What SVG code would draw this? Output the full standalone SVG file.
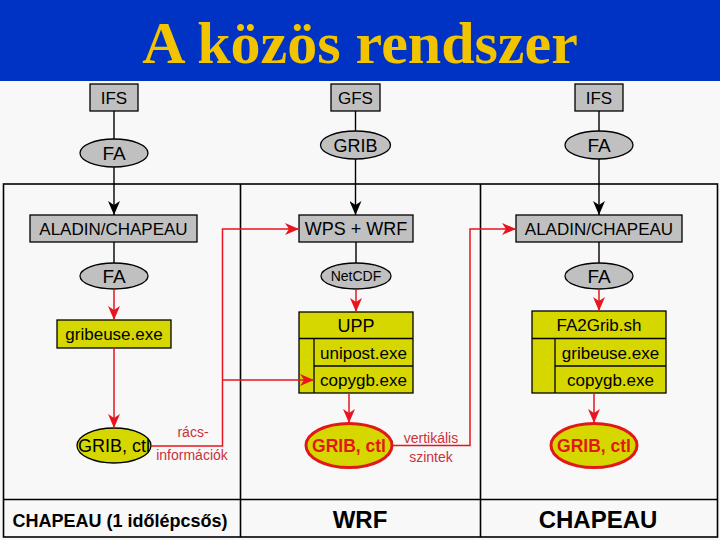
<svg xmlns="http://www.w3.org/2000/svg" width="720" height="540" viewBox="0 0 720 540">
<style>
text{font-family:"Liberation Sans",Arial,sans-serif;text-anchor:middle;fill:#000}
.title{font-family:"Liberation Serif","Times New Roman",serif;font-weight:bold;font-size:60px;fill:#f2c400}
.gray{fill:#c0c0c0;stroke:#000;stroke-width:1.3}
.yel{fill:#d7d700;stroke:#000;stroke-width:1.3}
.ln{fill:none;stroke:#000;stroke-width:1.3}
.blk{fill:none;stroke:#000;stroke-width:1.4}
.red{fill:none;stroke:#e8141e;stroke-width:1.5}
.lbl{font-size:14px;fill:#c8323c}
.t17{font-size:17px}
.t18{font-size:18px}
.t19{font-size:19px}
.rb{font-size:17.5px;font-weight:bold;fill:#e01818}
.tbl{fill:none;stroke:#000;stroke-width:1.6}
.bot{font-weight:bold}
</style>
<defs>
<marker id="ab" markerUnits="userSpaceOnUse" markerWidth="14" markerHeight="12" refX="14" refY="6" orient="auto"><path d="M0,0 L14,6 L0,12 L4,6 z" fill="#000"/></marker>
<marker id="ar" markerUnits="userSpaceOnUse" markerWidth="14" markerHeight="12" refX="14" refY="6" orient="auto"><path d="M0,0 L14,6 L0,12 L4,6 z" fill="#e8141e"/></marker>
</defs>
<rect x="0" y="0" width="720" height="540" fill="#f8f8f8"/>
<rect x="0" y="0" width="720" height="81" fill="#0033c4"/>
<text class="title" x="360" y="63">A közös rendszer</text>

<g id="table">
<rect class="tbl" x="3.5" y="184" width="714" height="353"/>
<line class="tbl" x1="240.5" y1="184" x2="240.5" y2="537"/>
<line class="tbl" x1="480.5" y1="184" x2="480.5" y2="537"/>
<line class="tbl" x1="3.5" y1="499.5" x2="717.5" y2="499.5"/>
<text class="bot" x="120" y="527" style="font-size:18px">CHAPEAU (1 időlépcsős)</text>
<text class="bot" x="360" y="528" style="font-size:24px">WRF</text>
<text class="bot" x="598" y="528" style="font-size:24px">CHAPEAU</text>
</g>

<g id="ifs1"><rect class="gray" x="90" y="84" width="48" height="27"/><text class="t17" x="114" y="104">IFS</text></g>
<g id="fa1"><ellipse class="gray" cx="114" cy="153" rx="34" ry="14"/><text class="t19" x="114" y="160">FA</text></g>
<g id="gfs"><rect class="gray" x="331" y="84" width="49" height="27"/><text class="t17" x="355.5" y="104">GFS</text></g>
<g id="grib0"><ellipse class="gray" cx="355.5" cy="145" rx="35" ry="14"/><text class="t18" x="355.5" y="152">GRIB</text></g>
<g id="ifs2"><rect class="gray" x="575" y="84" width="48" height="27"/><text class="t17" x="599" y="104">IFS</text></g>
<g id="fa2"><ellipse class="gray" cx="599" cy="145" rx="34" ry="14"/><text class="t19" x="599" y="152">FA</text></g>

<g id="aladin1"><rect class="gray" x="30" y="215" width="167" height="27"/><text class="t17" x="113.5" y="234.5">ALADIN/CHAPEAU</text></g>
<g id="wps"><rect class="gray" x="299" y="215" width="114" height="27"/><text class="t18" x="356" y="235">WPS + WRF</text></g>
<g id="aladin2"><rect class="gray" x="516" y="215" width="166" height="27"/><text class="t17" x="599" y="234.5">ALADIN/CHAPEAU</text></g>

<g id="fa3"><ellipse class="gray" cx="114" cy="276" rx="34" ry="13"/><text class="t19" x="114" y="283">FA</text></g>
<g id="netcdf"><ellipse class="gray" cx="356" cy="276" rx="35" ry="13"/><text x="356" y="281" style="font-size:14px">NetCDF</text></g>
<g id="fa4"><ellipse class="gray" cx="599" cy="276" rx="34" ry="13"/><text class="t19" x="599" y="283">FA</text></g>

<g id="gribeuse1"><rect class="yel" x="57" y="320" width="114" height="28"/><text class="t17" x="114" y="340">gribeuse.exe</text></g>
<g id="upp">
<rect class="yel" x="299" y="312" width="114" height="81"/>
<line class="ln" x1="299" y1="338.5" x2="413" y2="338.5"/>
<line class="ln" x1="314" y1="338.5" x2="314" y2="393"/>
<line class="ln" x1="314" y1="366" x2="413" y2="366"/>
<text class="t18" x="356" y="332">UPP</text>
<text class="t17" x="363.5" y="359">unipost.exe</text>
<text class="t17" x="363.5" y="386">copygb.exe</text>
</g>
<g id="fa2grib">
<rect class="yel" x="532" y="311" width="134" height="82"/>
<line class="ln" x1="532" y1="338.5" x2="666" y2="338.5"/>
<line class="ln" x1="555" y1="338.5" x2="555" y2="393"/>
<line class="ln" x1="555" y1="366" x2="666" y2="366"/>
<text class="t17" x="599" y="331">FA2Grib.sh</text>
<text class="t17" x="610.5" y="359">gribeuse.exe</text>
<text class="t17" x="610.5" y="386">copygb.exe</text>
</g>

<g id="gribctl1"><ellipse class="yel" cx="114" cy="445.5" rx="37" ry="17.5"/><text class="t18" x="114" y="452">GRIB, ctl</text></g>
<g id="gribctl2"><ellipse cx="349" cy="445.5" rx="43" ry="22" fill="#d7d700" stroke="#e01818" stroke-width="3"/><text class="rb" x="349" y="452">GRIB, ctl</text></g>
<g id="gribctl3"><ellipse cx="594" cy="445.5" rx="43" ry="22" fill="#d7d700" stroke="#e01818" stroke-width="3"/><text class="rb" x="594" y="452">GRIB, ctl</text></g>

<g id="connectors">
<line class="blk" x1="114" y1="111" x2="114" y2="139"/>
<line class="blk" x1="114" y1="167" x2="114" y2="215" marker-end="url(#ab)"/>
<line class="blk" x1="355.5" y1="111" x2="355.5" y2="131"/>
<line class="blk" x1="355.5" y1="159" x2="355.5" y2="215" marker-end="url(#ab)"/>
<line class="blk" x1="599" y1="111" x2="599" y2="131"/>
<line class="blk" x1="599" y1="159" x2="599" y2="215" marker-end="url(#ab)"/>
<line class="blk" x1="114" y1="242" x2="114" y2="263"/>
<line class="blk" x1="356" y1="242" x2="356" y2="263"/>
<line class="blk" x1="599" y1="242" x2="599" y2="263"/>
<line class="red" x1="114" y1="289" x2="114" y2="320" marker-end="url(#ar)"/>
<line class="red" x1="356" y1="289" x2="356" y2="312" marker-end="url(#ar)"/>
<line class="red" x1="599" y1="289" x2="599" y2="311" marker-end="url(#ar)"/>
<line class="red" x1="114" y1="348" x2="114" y2="428" marker-end="url(#ar)"/>
<line class="red" x1="349" y1="393" x2="349" y2="423" marker-end="url(#ar)"/>
<line class="red" x1="594" y1="393" x2="594" y2="423" marker-end="url(#ar)"/>
<path class="red" d="M151,446 H222.5 V229 H299" marker-end="url(#ar)"/>
<path class="red" d="M222.5,380 H314" marker-end="url(#ar)"/>
<path class="red" d="M392,445.5 H470 V229 H516" marker-end="url(#ar)"/>
<text class="lbl" x="193" y="437">rács-</text>
<text class="lbl" x="192" y="460">információk</text>
<text class="lbl" x="431" y="443">vertikális</text>
<text class="lbl" x="431" y="462">szintek</text>
</g>
</svg>
